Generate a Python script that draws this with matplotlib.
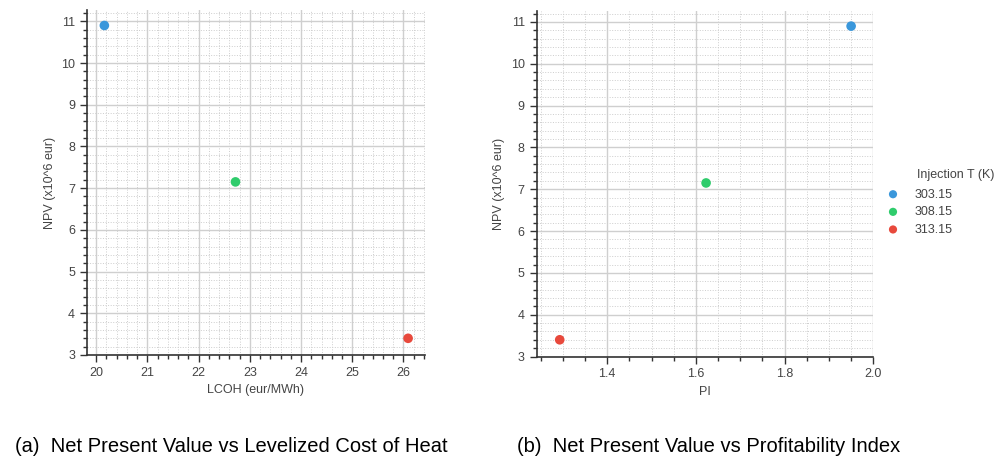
import numpy as np
import matplotlib
matplotlib.use("Agg")
import matplotlib.pyplot as plt
from matplotlib.ticker import MultipleLocator

plt.rcParams['font.family'] = ['Liberation Sans', 'DejaVu Sans']

# data
inj_temp = ['303.15', '308.15', '313.15']
colors = ['#3a97db', '#2fcc6c', '#e8493c']
lcoh = [20.16, 22.72, 26.09]
pi = [1.950, 1.623, 1.293]
npv = [10.90, 7.15, 3.40]

fig = plt.figure(figsize=(9.96, 4.63), dpi=100)
ax1 = fig.add_axes([0.0873, 0.2333, 0.3394, 0.745])
ax2 = fig.add_axes([0.5388, 0.2300, 0.3380, 0.7470])

def style(ax, xmaj, xmin):
    for s in ['top', 'right']:
        ax.spines[s].set_visible(False)
    for s in ['left', 'bottom']:
        ax.spines[s].set_color('#333333')
        ax.spines[s].set_linewidth(1.2)
    ax.yaxis.set_major_locator(MultipleLocator(1))
    ax.yaxis.set_minor_locator(MultipleLocator(0.2))
    ax.xaxis.set_major_locator(MultipleLocator(xmaj))
    ax.xaxis.set_minor_locator(MultipleLocator(xmin))
    ax.grid(which='major', color='#cfcfcf', linewidth=1.0)
    ax.grid(which='minor', color='#cdcdcd', linewidth=0.7, linestyle=':')
    ax.set_axisbelow(True)
    ax.tick_params(which='both', direction='out', colors='#333333', labelcolor='#444444', labelsize=9)
    ax.tick_params(which='major', length=5, width=1)
    ax.tick_params(which='minor', length=3, width=1)
    ax.set_ylabel('NPV (x10^6 eur)', fontsize=9, color='#444444')
    ax.set_ylim(3, 11.27)

style(ax1, 1, 0.2)
style(ax2, 0.2, 0.05)

for i in range(len(inj_temp)):
    ax1.scatter(lcoh[i], npv[i], s=48, color=colors[i], edgecolors='none', zorder=3)
    ax2.scatter(pi[i], npv[i], s=48, color=colors[i], edgecolors='none', zorder=3, label=inj_temp[i])

ax1.set_xlim(19.82, 26.42)
ax1.set_xlabel('LCOH (eur/MWh)', fontsize=9, color='#444444')
ax2.set_xlim(1.241, 2.0)
ax2.set_xlabel('PI', fontsize=9, color='#444444')
ax2.xaxis.set_major_formatter(plt.FuncFormatter(lambda v, p: '%.1f' % v))

leg = fig.legend(*ax2.get_legend_handles_labels(), loc='upper left',
                 bbox_to_anchor=(886.75 / 996, 1 - 188.5 / 463), bbox_transform=fig.transFigure,
                 frameon=False, fontsize=9, borderpad=0, borderaxespad=0,
                 handlelength=1.0, handletextpad=1.26, markerscale=0.85, labelspacing=0.45)
for t in leg.get_texts():
    t.set_color('#444444')
fig.text(917 / 996, 1 - 175 / 463, 'Injection T (K)', fontsize=9, color='#444444', va='center')

cap_font = ['Liberation Sans', 'DejaVu Sans']
fig.text(15 / 996, 1 - 452 / 463, '(a)  Net Present Value vs Levelized Cost of Heat',
         fontsize=14.5, family=cap_font, va='baseline')
fig.text(517 / 996, 1 - 452 / 463, '(b)  Net Present Value vs Profitability Index',
         fontsize=14.5, family=cap_font, va='baseline')

fig.savefig('out.png', dpi=100)
